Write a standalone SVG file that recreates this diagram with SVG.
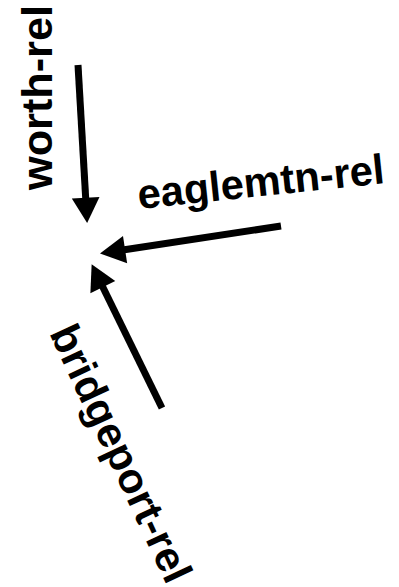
<svg xmlns="http://www.w3.org/2000/svg" width="399" height="587" viewBox="0 0 399 587">
  <style>
    .lbl { font-family: "Liberation Sans", Arial, sans-serif; font-weight: bold; font-size: 42px; fill: #000; }
    .edge { stroke: #000; stroke-width: 7; fill: none; marker-end: url(#head); }
  </style>
  <defs>
    <marker id="head" markerUnits="userSpaceOnUse" markerWidth="30" markerHeight="30" viewBox="0 -13 24 26" refX="2" refY="0" orient="auto">
      <path d="M0,-12 L22,0 L0,12 Z" fill="#000"/>
    </marker>
  </defs>

  <!-- connectors -->
  <g id="connectors">
    <line id="edge-worth" class="edge" x1="78" y1="65" x2="85.8" y2="200"/>
    <line id="edge-eaglemtn" class="edge" x1="281" y1="226" x2="122.8" y2="250"/>
    <line id="edge-bridgeport" class="edge" x1="162" y1="408" x2="101.8" y2="285"/>
  </g>

  <!-- labels -->
  <g id="worth-rel">
    <text class="lbl" transform="translate(52,190) rotate(-90)" textLength="185" lengthAdjust="spacingAndGlyphs">worth-rel</text>
  </g>
  <g id="eaglemtn-rel">
    <text class="lbl" transform="translate(139,209) rotate(-6)" textLength="248" lengthAdjust="spacingAndGlyphs">eaglemtn-rel</text>
  </g>
  <g id="bridgeport-rel">
    <text class="lbl" transform="translate(49,333) rotate(65)" textLength="279" lengthAdjust="spacingAndGlyphs">bridgeport-rel</text>
  </g>
</svg>
